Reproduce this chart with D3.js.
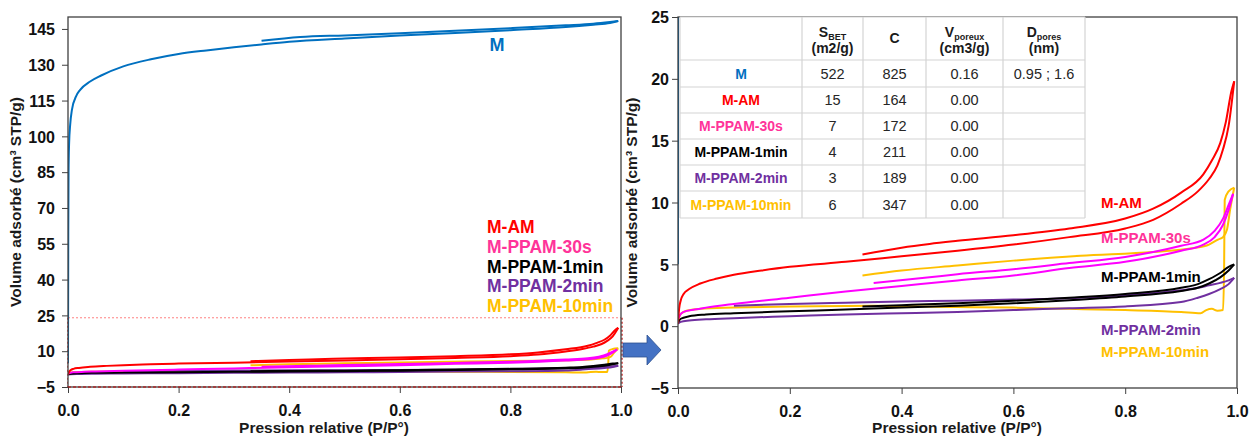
<!DOCTYPE html>
<html><head><meta charset="utf-8">
<script src="https://cdn.jsdelivr.net/npm/d3@7"></script>
<style>
body{margin:0;background:#fff;}
svg text{font-family:"Liberation Sans",Arial,sans-serif;}
</style></head>
<body><svg id="c" width="1250" height="439"></svg>
<script>
// ---------- DATA ----------
const xTicks = [0, 0.2, 0.4, 0.6, 0.8, 1.0];
const yTicksLeft = [-5, 10, 25, 40, 55, 70, 85, 100, 115, 130, 145];
const yTicksRight = [-5, 0, 5, 10, 15, 20, 25];
const zoomBoxTop = 24;

const seriesNames = ["M", "M-AM", "M-PPAM-30s", "M-PPAM-1min", "M-PPAM-2min", "M-PPAM-10min"];
const lineColors = ["#0070C0", "#FF0000", "#FF00FF", "#000000", "#7030A0", "#FFC000"];
const labelColors = ["#0070C0", "#FF0000", "#FF3399", "#000000", "#7030A0", "#FFC000"];

const mAds = [[0,5],[0.0005,60],[0.001,85],[0.002,97],[0.004,105],[0.007,111],[0.015,117],[0.022,119.5],[0.04,123],[0.06,125.5],[0.1,129.3],[0.15,132.3],[0.2,134.5],[0.25,136],[0.3,137.3],[0.35,138.5],[0.4,139.6],[0.5,141],[0.6,142.2],[0.7,143.3],[0.8,144.5],[0.9,145.8],[0.95,146.8],[0.98,147.5],[0.995,148.3]];
const mDes = [[0.995,148.3],[0.98,147.9],[0.95,147.2],[0.9,146.5],[0.8,145.3],[0.7,144.2],[0.6,143.2],[0.5,142.3],[0.42,141.6],[0.35,140.0]];

const amAds = [[0,0.2],[0.002,1.4],[0.005,2.1],[0.01,2.6],[0.02,3.0],[0.04,3.45],[0.07,3.85],[0.1,4.15],[0.15,4.5],[0.2,4.8],[0.3,5.2],[0.4,5.65],[0.5,6.1],[0.6,6.6],[0.7,7.2],[0.8,7.9],[0.85,8.6],[0.9,9.9],[0.93,10.9],[0.95,11.9],[0.965,13.0],[0.975,14.3],[0.985,16.2],[0.995,19.8]];
const amDes = [[0.995,19.8],[0.99,19.0],[0.98,16.5],[0.97,14.8],[0.955,13.4],[0.94,12.3],[0.9,10.8],[0.85,9.5],[0.8,8.7],[0.7,7.9],[0.6,7.35],[0.5,6.9],[0.45,6.65],[0.4,6.35],[0.33,5.8]];

const s30Ads = [[0,0.6],[0.005,1.0],[0.01,1.15],[0.03,1.35],[0.05,1.5],[0.1,1.8],[0.2,2.3],[0.3,2.8],[0.4,3.25],[0.5,3.7],[0.6,4.1],[0.7,4.7],[0.8,5.2],[0.9,6.1],[0.94,6.6],[0.96,7.2],[0.975,8.2],[0.985,9.4],[0.993,10.7]];
const s30Des = [[0.993,10.7],[0.985,9.8],[0.975,8.7],[0.96,7.7],[0.94,7.0],[0.9,6.5],[0.8,5.6],[0.7,5.1],[0.6,4.6],[0.5,4.2],[0.45,3.95],[0.35,3.5]];

const m1Ads = [[0,0.3],[0.005,0.6],[0.02,0.8],[0.05,0.95],[0.1,1.05],[0.2,1.2],[0.3,1.35],[0.4,1.5],[0.5,1.65],[0.6,1.85],[0.7,2.1],[0.8,2.4],[0.9,2.85],[0.93,3.1],[0.95,3.45],[0.97,3.95],[0.985,4.5],[0.995,5.0]];
const m1Des = [[0.995,5.0],[0.985,4.8],[0.97,4.3],[0.95,3.8],[0.93,3.4],[0.9,3.1],[0.8,2.6],[0.7,2.3],[0.6,2.05],[0.5,1.85],[0.4,1.7],[0.33,1.6]];

const m2Ads = [[0,0.2],[0.005,0.35],[0.02,0.45],[0.05,0.55],[0.1,0.65],[0.2,0.8],[0.3,0.95],[0.4,1.05],[0.5,1.15],[0.6,1.3],[0.7,1.45],[0.8,1.6],[0.9,1.95],[0.93,2.3],[0.95,2.6],[0.97,3.0],[0.985,3.4],[0.995,3.9]];
const m2Des = [[0.995,3.9],[0.985,3.7],[0.97,3.5],[0.95,3.3],[0.93,3.1],[0.9,2.9],[0.8,2.5],[0.7,2.25],[0.6,2.15],[0.5,2.05],[0.4,2.0],[0.3,1.9],[0.2,1.8],[0.1,1.65]];

const m10Ads = [[0,0.5],[0.005,1.0],[0.015,1.25],[0.04,1.4],[0.1,1.5],[0.2,1.6],[0.35,1.65],[0.5,1.55],[0.6,1.5],[0.7,1.4],[0.8,1.3],[0.9,1.15],[0.935,1.05],[0.945,1.3],[0.955,1.4],[0.965,1.25],[0.975,1.3],[0.977,5],[0.978,10.2],[0.985,10.9],[0.995,11.2]];
const m10Des = [[0.995,11.2],[0.988,9.5],[0.982,7.8],[0.975,7.2],[0.966,7.0],[0.95,6.6],[0.92,6.3],[0.85,6.0],[0.72,5.7],[0.6,5.3],[0.5,4.9],[0.4,4.5],[0.33,4.1]];

const branches = [mAds, mDes, amAds, amDes, s30Ads, s30Des, m1Ads, m1Des, m2Ads, m2Des, m10Ads, m10Des];
const branchSeries = [0,0,1,1,2,2,3,3,4,4,5,5];

// table
const tableHeaders = [["S","BET","(m2/g)"],["C","",""],["V","poreux","(cm3/g)"],["D","pores","(nm)"]];
const tableSBET = ["522","15","7","4","3","6"];
const tableC = ["825","164","172","211","189","347"];
const tableV = ["0.16","0.00","0.00","0.00","0.00","0.00"];
const tableD = ["0.95 ; 1.6","","","","",""];

// ---------- DRAW ----------
const svg = d3.select("#c");
const FONT = "'Liberation Sans', Arial, sans-serif";

function panel(opts){
  const {x0,x1,yTop,yBot,yDomain,clipId} = opts;
  const x = d3.scaleLinear([0,1],[x0,x1]);
  const y = d3.scaleLinear(yDomain,[yBot,yTop]);
  const g = svg.append("g");
  g.append("clipPath").attr("id",clipId).append("rect")
    .attr("x",x0).attr("y",yTop).attr("width",x1-x0).attr("height",yBot-yTop);
  return {x,y,g};
}

function drawAxes(p, o){
  const {x,y,g} = p;
  const ax = g.append("g").attr("transform",`translate(0,${o.yBot})`)
    .call(d3.axisBottom(x).tickValues(xTicks).tickFormat(d3.format(".1f")).tickSize(6).tickSizeOuter(0).tickPadding(8));
  const ay = g.append("g").attr("transform",`translate(${o.x0},0)`)
    .call(d3.axisLeft(y).tickValues(o.yTicks).tickFormat(d3.format("d")).tickSize(6).tickSizeOuter(0).tickPadding(o.yPad));
  [ax,ay].forEach(a=>{
    a.select(".domain").remove();
    a.selectAll("line").attr("stroke","#404040").attr("stroke-width",1);
    a.selectAll("text").attr("font-family",FONT).attr("font-size",16).attr("font-weight","bold").attr("fill","#111");
  });
  ax.selectAll("text").attr("dy","0.92em");
  ay.selectAll("text").attr("dy","0.36em");
  g.append("rect").attr("x",o.x0).attr("y",o.yTop).attr("width",o.x1-o.x0).attr("height",o.yBot-o.yTop)
    .attr("fill","none").attr("stroke","#404040").attr("stroke-width",1.3);
  g.append("text").attr("x",o.titleX).attr("y",433).attr("text-anchor","middle")
    .attr("font-size",15.5).attr("font-weight","bold").attr("fill","#1a1a1a")
    .text("Pression relative (P/P°)");
  g.append("text").attr("transform",`translate(${o.ytitleX},${(o.yTop+o.yBot)/2}) rotate(-90)`)
    .attr("text-anchor","middle").attr("font-size",15.5).attr("font-weight","bold").attr("fill","#1a1a1a")
    .text("Volume adsorbé (cm³ STP/g)");
}

function drawCurves(p, clipId){
  const line = d3.line().x(d=>p.x(d[0])).y(d=>p.y(d[1])).curve(d3.curveMonotoneX);
  const cg = p.g.append("g").attr("clip-path",`url(#${clipId})`);
  const order = [0,1,10,11,8,9,6,7,4,5,2,3];
  order.forEach(i=>{
    const pts = branches[i].slice().sort((a,b)=>a[0]-b[0]);
    cg.append("path").attr("d",line(pts)).attr("fill","none")
      .attr("stroke",lineColors[branchSeries[i]]).attr("stroke-width",2).attr("stroke-linejoin","round");
  });
}

// Left panel
const L = {x0:68,x1:621,yTop:17,yBot:387,yDomain:[-5,150],yTicks:yTicksLeft,yPad:7,titleX:324,ytitleX:21,clipId:"clipL"};
const pL = panel(L);
pL.g.append("line").attr("x1",pL.x(0)).attr("x2",pL.x(1)).attr("y1",pL.y(zoomBoxTop)).attr("y2",pL.y(zoomBoxTop))
  .attr("stroke","#FF8080").attr("stroke-width",1).attr("stroke-dasharray","2,2");
pL.g.append("line").attr("x1",pL.x(0)-0.5).attr("x2",pL.x(0)-0.5).attr("y1",pL.y(zoomBoxTop)).attr("y2",pL.y(-5))
  .attr("stroke","#FF6060").attr("stroke-width",1).attr("stroke-dasharray","2,2");
pL.g.append("line").attr("x1",pL.x(1)+1).attr("x2",pL.x(1)+1).attr("y1",pL.y(zoomBoxTop)).attr("y2",pL.y(-5))
  .attr("stroke","#C00000").attr("stroke-width",1.2).attr("stroke-dasharray","2,2");
drawCurves(pL,"clipL");
drawAxes(pL,L);
pL.g.append("line").attr("x1",pL.x(0)).attr("x2",pL.x(1)).attr("y1",pL.y(-5)).attr("y2",pL.y(-5))
  .attr("stroke","#C00000").attr("stroke-width",1.2).attr("stroke-dasharray","3,2");

pL.g.append("text").attr("x",497).attr("y",51).attr("text-anchor","middle").attr("font-size",18)
  .attr("font-weight","bold").attr("fill",labelColors[0]).text(seriesNames[0]);
const leftBase = [233,253,273,292,312];
for(let i=1;i<6;i++){
  pL.g.append("text").attr("x",487).attr("y",leftBase[i-1]).attr("font-size",17.5)
    .attr("font-weight","bold").attr("fill",labelColors[i]).text(seriesNames[i]);
}

// Right panel
const R = {x0:678,x1:1237,yTop:17,yBot:388,yDomain:[-5,25],yTicks:yTicksRight,yPad:3,titleX:957,ytitleX:637,clipId:"clipR"};
const pR = panel(R);
drawCurves(pR,"clipR");
drawAxes(pR,R);
const rightBase = [208,243,282,335,357];
for(let i=1;i<6;i++){
  pR.g.append("text").attr("x",1101).attr("y",rightBase[i-1]).attr("font-size",15)
    .attr("font-weight","bold").attr("fill",labelColors[i]).text(seriesNames[i]);
}

// table
const colB = [680,802,863,926,1003,1085];
const rowB = [17,60,87,113,139,165,191,218];
const tg = svg.append("g");
tg.append("rect").attr("x",colB[0]).attr("y",rowB[0]).attr("width",colB[5]-colB[0]).attr("height",rowB[7]-rowB[0]).attr("fill","#fff");
colB.forEach(cx=>tg.append("line").attr("x1",cx).attr("x2",cx).attr("y1",rowB[0]).attr("y2",rowB[7]).attr("stroke","#d4d4d4").attr("stroke-width",1.2));
rowB.forEach(ry=>tg.append("line").attr("x1",colB[0]).attr("x2",colB[5]).attr("y1",ry).attr("y2",ry).attr("stroke","#d4d4d4").attr("stroke-width",1.2));
const colC = colB.slice(0,5).map((b,i)=>(b+colB[i+1])/2);
tableHeaders.forEach((h,i)=>{
  const cx = colC[i+1];
  if(h[1]===""){
    tg.append("text").attr("x",cx).attr("y",43).attr("text-anchor","middle").attr("font-size",14).attr("font-weight","bold").attr("fill","#1a1a1a").text(h[0]);
  } else {
    const t = tg.append("text").attr("x",cx).attr("y",37).attr("text-anchor","middle").attr("font-size",14).attr("font-weight","bold").attr("fill","#1a1a1a");
    t.append("tspan").text(h[0]);
    t.append("tspan").attr("font-size",9).attr("dy",3).text(h[1]);
    tg.append("text").attr("x",cx).attr("y",53).attr("text-anchor","middle").attr("font-size",14).attr("font-weight","bold").attr("fill","#1a1a1a").text(h[2]);
  }
});
const cols = [tableSBET, tableC, tableV, tableD];
seriesNames.forEach((n,r)=>{
  const cy = (rowB[r+1]+rowB[r+2])/2 + 5;
  tg.append("text").attr("x",colC[0]).attr("y",cy).attr("text-anchor","middle").attr("font-size",14).attr("font-weight","bold").attr("fill",labelColors[r]).text(n);
  cols.forEach((c,j)=>{
    tg.append("text").attr("x",colC[j+1]).attr("y",cy).attr("text-anchor","middle").attr("font-size",14.5).attr("fill","#262626").text(c[r]);
  });
});

// arrow
svg.append("path").attr("d","M623,343 L647,343 L647,335 L661,350 L647,365 L647,357 L623,357 Z")
  .attr("fill","#4472C4").attr("stroke","#2F528F").attr("stroke-width",0.8);
</script></body></html>
